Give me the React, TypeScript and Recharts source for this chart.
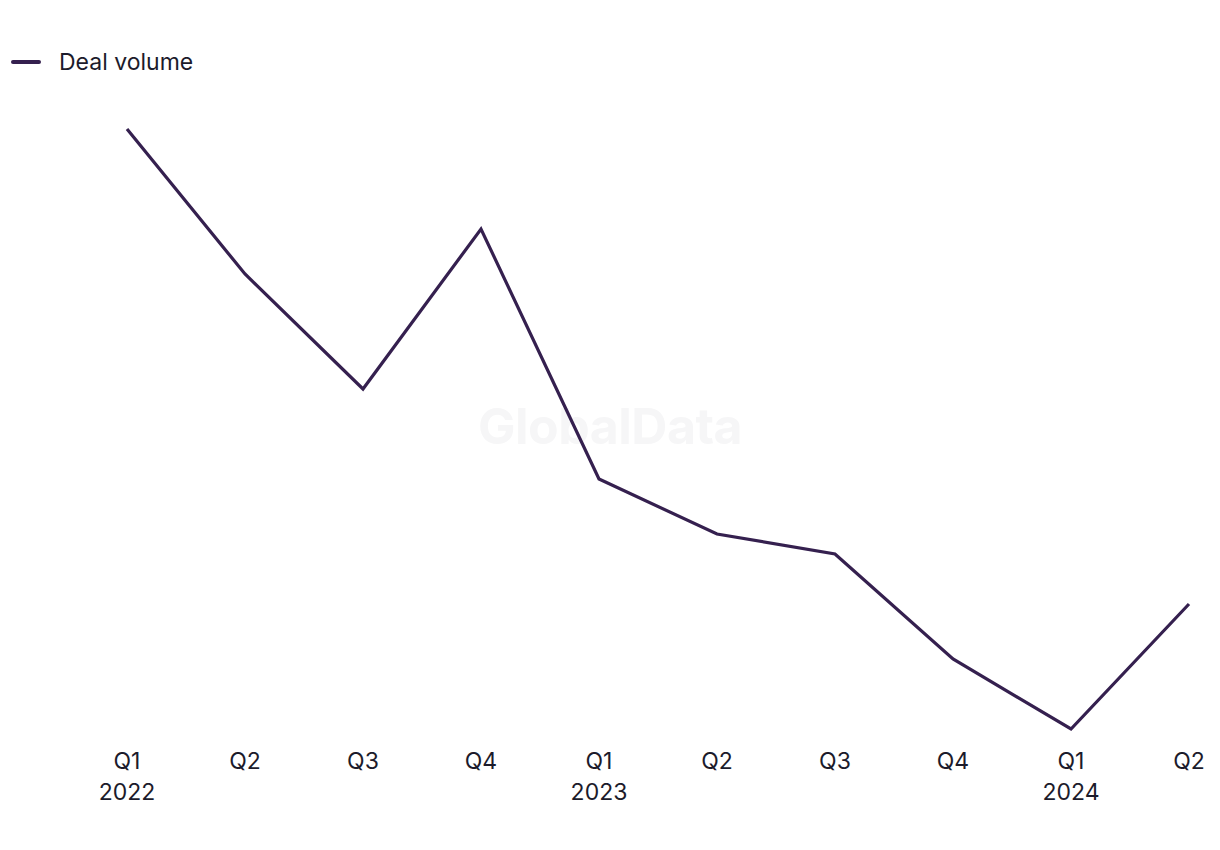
import React from 'react';
import { LineChart, Line, XAxis, YAxis } from 'recharts';

const quarters = ['Q1', 'Q2', 'Q3', 'Q4', 'Q1', 'Q2', 'Q3', 'Q4', 'Q1', 'Q2'];
const years = ['2022', '', '', '', '2023', '', '', '', '2024', ''];
const dealVolume = [220, 191, 168, 200, 150, 139, 135, 114, 100, 125];

const LINE_COLOR = '#35204f';
const TEXT_COLOR = '#1c1b2b';
const FONT = 'Inter, "Noto Sans", sans-serif';

const chartData = quarters.map((q, i) => ({ key: i, quarter: q, year: years[i], value: dealVolume[i] }));

const QuarterTick = (props: any) => {
    const { x, y, payload } = props;
    const row = chartData[payload.value];
    return (
        <g>
            <text x={x} y={y + 32} textAnchor="middle" fill={TEXT_COLOR} fontSize={23} fontFamily={FONT}>
                {row.quarter}
            </text>
            {row.year && (
                <text x={x} y={y + 63} textAnchor="middle" fill={TEXT_COLOR} fontSize={23} fontFamily={FONT}>
                    {row.year}
                </text>
            )}
        </g>
    );
};

const App: React.FC = () => {
    return (
        <div style={{ position: 'absolute', top: 0, left: 0, width: 1220, height: 850, background: '#fff', fontFamily: FONT }}>
            {/* watermark */}
            <div style={{
                position: 'absolute', left: 0, width: 1220, top: 396, textAlign: 'center',
                fontSize: 50, fontWeight: 700, color: '#f6f6f7', letterSpacing: -0.5
            }}>GlobalData</div>

            {/* legend */}
            <div style={{ position: 'absolute', left: 11, top: 48, display: 'flex', alignItems: 'center', color: TEXT_COLOR, fontSize: 23 }}>
                <span style={{ display: 'inline-block', width: 30, height: 4, borderRadius: 2, background: LINE_COLOR, marginRight: 18 }} />
                <span>Deal volume</span>
            </div>

            <div style={{ position: 'absolute', top: 0, left: 0 }}>
                <LineChart
                    width={1220}
                    height={850}
                    data={chartData}
                    margin={{ top: 129, right: 31, left: 127, bottom: 41 }}
                >
                    <XAxis
                        dataKey="key"
                        type="category"
                        axisLine={false}
                        tickLine={false}
                        height={80}
                        interval={0}
                        padding={{ left: 0, right: 0 }}
                        tick={<QuarterTick />}
                    />
                    <YAxis hide domain={[100, 220]} />
                    <Line
                        type="linear"
                        dataKey="value"
                        stroke={LINE_COLOR}
                        strokeWidth={3.2}
                        dot={false}
                        activeDot={false}
                        isAnimationActive={false}
                    />
                </LineChart>
            </div>
        </div>
    );
};

export default App;
